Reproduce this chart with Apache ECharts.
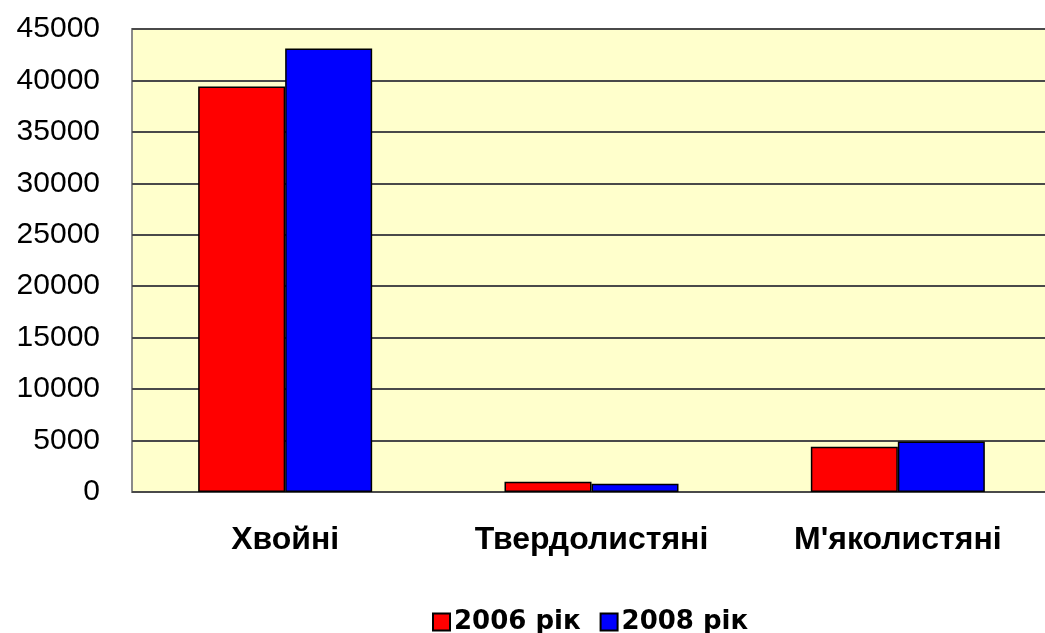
<!DOCTYPE html>
<html>
<head>
<meta charset="utf-8">
<script src="https://cdn.jsdelivr.net/npm/echarts@6/dist/echarts.min.js"></script>
<style>
  html, body { margin: 0; padding: 0; background: #fff; }
  #chart { width: 1045px; height: 633px; }
</style>
</head>
<body>
<div id="chart"></div>
<script>
const categories = ['Хвойні', 'Твердолистяні', "М'яколистяні"]
const values2006 = [39400, 1000, 4400]
const values2008 = [43100, 800, 4900]
const seriesNames = ['2006 рік', '2008 рік']

const chart = echarts.init(document.getElementById('chart'))
const catFont = 'Liberation Sans, Arial, sans-serif'
const legendFont = 'DejaVu Sans, sans-serif'

const option = {
  animation: false,
  grid: {
    left: 132,
    right: -6,
    top: 29,
    bottom: 141,
    outerBoundsMode: 'none',
    show: true,
    backgroundColor: '#ffffcc',
    borderColor: '#8a8a8a',
    borderWidth: 2
  },
  legend: {
    left: 427,
    top: 604,
    itemWidth: 17,
    itemHeight: 17,
    itemGap: 19,
    icon: 'rect',
    textStyle: { fontFamily: legendFont, fontSize: 26, fontWeight: 'bold', color: '#000', padding: [0, 0, 0, -1] },
    data: seriesNames
  },
  xAxis: {
    type: 'category',
    data: categories,
    axisLine: { show: false },
    axisTick: { show: false },
    axisLabel: {
      margin: 32,
      fontFamily: catFont,
      fontSize: 32,
      fontWeight: 'bold',
      color: '#000'
    }
  },
  yAxis: {
    type: 'value',
    min: 0,
    max: 45000,
    interval: 5000,
    axisLine: { show: false },
    axisTick: { show: false },
    splitLine: { lineStyle: { color: '#4a4a4a', width: 2 } },
    axisLabel: {
      margin: 32,
      fontFamily: catFont,
      fontSize: 30,
      color: '#000',
      formatter: (v) => String(v)
    }
  },
  series: [
    {
      name: seriesNames[0],
      type: 'bar',
      data: values2006,
      barWidth: 87,
      barGap: '0%',
      itemStyle: { color: '#ff0000', borderColor: '#000', borderWidth: 1.5 }
    },
    {
      name: seriesNames[1],
      type: 'bar',
      data: values2008,
      barWidth: 87,
      barGap: '0%',
      itemStyle: { color: '#0000ff', borderColor: '#000', borderWidth: 1.5 }
    }
  ]
}

chart.setOption(option)
</script>
</body>
</html>
